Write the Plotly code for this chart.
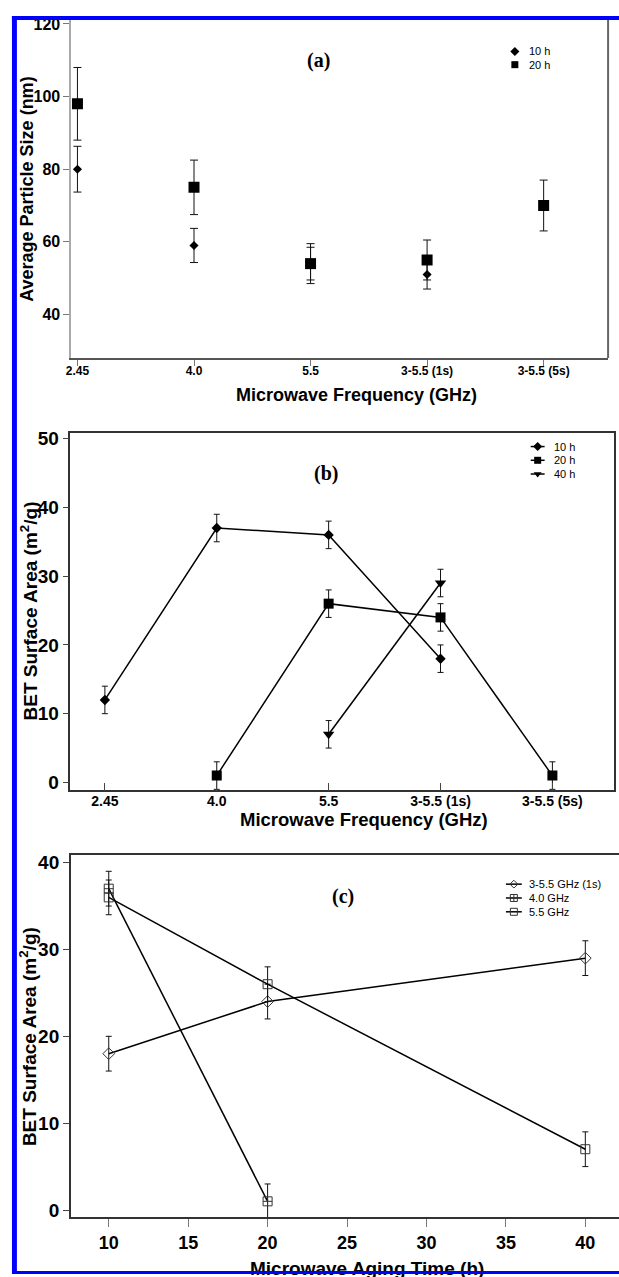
import plotly.graph_objects as go

W, H = 619, 1277
BLUE = "#0000ff"
SANS = "Liberation Sans, Arial, sans-serif"
SERIF = "Liberation Serif, Times New Roman, serif"

# ---------------- data ----------------
freq_labels = ["2.45", "4.0", "5.5", "3-5.5 (1s)", "3-5.5 (5s)"]

# (a) average particle size (nm)
size_10h = [80, 59, 54, 51, None]
size_10h_err = [6.3, 4.7, 4.5, 4.0, None]
size_20h = [98, 75, 54, 55, 70]
size_20h_err = [10, 7.5, 5.5, 5.5, 7]

# (b) BET surface area (m2/g) vs frequency
bet_10h = [12, 37, 36, 18, None]
bet_20h = [None, 1, 26, 24, 1]
bet_40h = [None, None, 7, 29, None]
bet_err = [2, 2, 2, 2, 2]

# (c) BET surface area (m2/g) vs aging time
aging_time = [10, 20, 40]
bet_1s = [18, 24, 29]
bet_4p0 = [37, 1, None]
bet_5p5 = [36, 26, 7]
aging_err = [2, 2, 2]

a_yticks = [40, 60, 80, 100, 120]
b_yticks = [0, 10, 20, 30, 40, 50]
c_yticks = [0, 10, 20, 30, 40]
c_xticks = [10, 15, 20, 25, 30, 35, 40]


def fx(p):
    return p / W


def fy(p):
    return 1 - p / H


fig = go.Figure()


def add_series(xs, ys, errs, ax, mode, symbol, size, width=4,
               mcolor="black", mline=0, lw=1.5):
    pts = [(x, y, e) for x, y, e in zip(xs, ys, errs) if y is not None]
    fig.add_trace(go.Scatter(
        x=[p[0] for p in pts], y=[p[1] for p in pts],
        xaxis="x" + ax if ax != "1" else "x",
        yaxis="y" + ax if ax != "1" else "y",
        mode=mode,
        line=dict(color="black", width=lw),
        marker=dict(symbol=symbol, size=size, color=mcolor,
                    line=dict(width=mline, color=mcolor)),
        error_y=dict(type="data", array=[p[2] for p in pts], color="#111",
                     thickness=1, width=width),
        showlegend=False, hoverinfo="skip",
    ))


pos = list(range(len(freq_labels)))

# (a)
add_series(pos, size_10h, size_10h_err, "1", "markers", "diamond", 7)
add_series(pos, size_20h, size_20h_err, "1", "markers", "square", 11)

# (b)
add_series(pos, bet_10h, bet_err, "2", "lines+markers", "diamond", 8, width=3)
add_series(pos, bet_20h, bet_err, "2", "lines+markers", "square", 10, width=3)
add_series(pos, bet_40h, bet_err, "2", "lines+markers", "triangle-down", 10, width=3)

# (c)
add_series(aging_time, bet_1s, aging_err, "3", "lines+markers", "diamond-open", 9,
           width=3, mcolor="#333", mline=1)
add_series(aging_time, bet_4p0, aging_err, "3", "lines+markers", "square-cross-open", 9,
           width=3, mcolor="#333", mline=1)
add_series(aging_time, bet_5p5, aging_err, "3", "lines+markers", "square-open", 9,
           width=3, mcolor="#333", mline=1)


# legend keys drawn on a full-page overlay axis (pixel coordinates)
def key(x0, x1, y, symbol, size, with_line, mcolor="black", mline=0):
    xm = (x0 + x1) / 2
    if with_line:
        fig.add_trace(go.Scatter(x=[x0, x1], y=[y, y], xaxis="x4", yaxis="y4",
                                 mode="lines", line=dict(color="black", width=1.5),
                                 showlegend=False, hoverinfo="skip"))
    fig.add_trace(go.Scatter(x=[xm], y=[y], xaxis="x4", yaxis="y4", mode="markers",
                             marker=dict(symbol=symbol, size=size, color=mcolor,
                                         line=dict(width=mline, color=mcolor)),
                             showlegend=False, hoverinfo="skip"))


annotations = []


def text(x, y, s, size, anchor="left", angle=0, family=SANS, weight="normal"):
    annotations.append(dict(
        x=fx(x), y=fy(y), xref="paper", yref="paper", text=s, showarrow=False,
        xanchor=anchor, yanchor="middle", textangle=angle,
        font=dict(family=family, size=size, color="black", weight=weight)))


legend_a = [("10 h", "diamond", 7), ("20 h", "square", 7)]
for i, (lab, sym, sz) in enumerate(legend_a):
    y = 47.7 + i * 13.3
    key(514, 514, y, sym, sz, False)
    text(526, y, lab, 11)

legend_b = [("10 h", "diamond", 7), ("20 h", "square", 7), ("40 h", "triangle-down", 7)]
for i, (lab, sym, sz) in enumerate(legend_b):
    y = 445 + i * 13.8
    key(530, 544, y, sym, sz, True)
    text(551, y, lab, 11)

legend_c = [("3-5.5 GHz (1s)", "diamond-open", 6), ("4.0 GHz", "square-cross-open", 7),
            ("5.5 GHz", "square-open", 7)]
for i, (lab, sym, sz) in enumerate(legend_c):
    y = 885 + i * 13.9
    key(505, 521, y, sym, sz, True, mcolor="#333", mline=1)
    text(526, y, lab, 11)

# panel labels
text(316, 57, "(a)", 20, anchor="center", family=SERIF, weight="bold")
text(324, 472, "(b)", 20, anchor="center", family=SERIF, weight="bold")
text(341, 897, "(c)", 20, anchor="center", family=SERIF, weight="bold")

# axis titles
text(354, 393, "Microwave Frequency (GHz)", 18, anchor="center", weight="bold")
text(22, 186, "Average Particle Size (nm)", 18, anchor="center", angle=-90, weight="bold")
text(362, 820, "Microwave Frequency (GHz)", 18.5, anchor="center", weight="bold")
text(24, 610, "BET Surface Area (m<sup>2</sup>/g)", 19, anchor="center", angle=-90,
     weight="bold")
text(365, 1271, "Microwave Aging Time (h)", 19, anchor="center", weight="bold")
text(24, 1038, "BET Surface Area (m<sup>2</sup>/g)", 19, anchor="center", angle=-90,
     weight="bold")

# bottom frame edge, drawn over the last title
annotations.append(dict(
    x=fx(7), y=0, xref="paper", yref="paper", xanchor="left", yanchor="bottom",
    text="\u00a0", showarrow=False, width=W - 7, height=3, bgcolor=BLUE,
    borderpad=0, borderwidth=0, font=dict(size=1)))


def axis_common(**kw):
    d = dict(showgrid=False, zeroline=False, showline=True, fixedrange=True)
    d.update(kw)
    return d


def tfont(size):
    return dict(family=SANS, size=size, color="black", weight="bold")


fig.update_layout(
    width=W, height=H, margin=dict(l=0, r=0, t=0, b=0),
    paper_bgcolor="white", plot_bgcolor="rgba(0,0,0,0)", showlegend=False,
    annotations=annotations,
    # (a)
    xaxis=axis_common(domain=[fx(66.7), fx(608)], range=[-0.054, 4.553], anchor="y",
                      tickmode="array", tickvals=pos, ticktext=freq_labels,
                      ticks="outside", ticklen=6, tickcolor="#777",
                      ticklabelstandoff=-5,
                      linecolor="#555", linewidth=2, tickfont=tfont(12)),
    yaxis=axis_common(domain=[fy(356), fy(16)], range=[28, 121.1], anchor="x",
                      tickmode="array", tickvals=a_yticks, ticks="outside", ticklen=6,
                      tickcolor="#777", linecolor="#aaa", linewidth=1.5,
                      tickfont=tfont(16)),
    # (b)
    xaxis2=axis_common(domain=[fx(66), fx(614)], range=[-0.3076, 4.551], anchor="y2",
                       tickmode="array", tickvals=pos, ticktext=freq_labels,
                       ticks="inside", ticklen=8, tickcolor="#444", mirror=True,
                       ticklabelstandoff=-3,
                       linecolor="#333", linewidth=1.5, tickfont=tfont(14)),
    yaxis2=axis_common(domain=[fy(790.7), fy(431)], range=[-1.15, 50.87], anchor="x2",
                       tickmode="array", tickvals=b_yticks, ticks="outside", ticklen=6,
                       tickcolor="#444", mirror=True, linecolor="#333", linewidth=1.5,
                       tickfont=tfont(19)),
    # (c)
    xaxis3=axis_common(domain=[fx(66.3), 1], range=[7.61, 42.12], anchor="y3",
                       tickmode="array", tickvals=c_xticks, ticks="outside", ticklen=8,
                       tickcolor="#777", mirror=True, linecolor="#333", linewidth=1.5,
                       tickfont=tfont(18)),
    yaxis3=axis_common(domain=[fy(1220), fy(855.5)], range=[-0.84, 40.9], anchor="x3",
                       tickmode="array", tickvals=c_yticks, ticks="outside", ticklen=6,
                       tickcolor="#444", linecolor="#333", linewidth=1.5,
                       tickfont=tfont(19)),
    # overlay in page pixels for legend keys
    xaxis4=dict(domain=[0, 1], range=[0, W], anchor="y4", visible=False, fixedrange=True),
    yaxis4=dict(domain=[0, 1], range=[H, 0], anchor="x4", visible=False, fixedrange=True),
    shapes=[
        # right spine of (a)
        dict(type="line", xref="paper", yref="paper", x0=fx(608), x1=fx(608),
             y0=fy(16), y1=fy(356), line=dict(color="#666", width=2), layer="above"),
        # page frame: top and left edges
        dict(type="rect", xref="paper", yref="paper", x0=fx(7), x1=1,
             y0=fy(16), y1=fy(12), fillcolor=BLUE, line=dict(width=0), layer="above"),
        dict(type="rect", xref="paper", yref="paper", x0=fx(7), x1=fx(12),
             y0=0, y1=fy(12), fillcolor=BLUE, line=dict(width=0), layer="above"),
    ],
)

fig.write_html("out.html")
